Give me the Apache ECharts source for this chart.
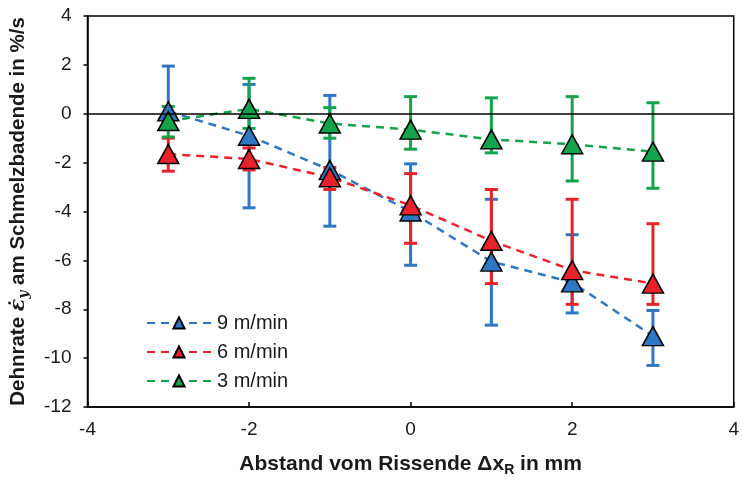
<!DOCTYPE html>
<html>
<head>
<meta charset="utf-8">
<script src="https://cdn.jsdelivr.net/npm/echarts@6/dist/echarts.min.js"></script>
<style>
html,body{margin:0;padding:0;background:#fff;}
#chart{width:742px;height:482px;}
</style>
</head>
<body>
<div id="chart"></div>
<script>
// Abstand vom Rissende in mm
var xPos = [-3, -2, -1, 0, 1, 2, 3];

// 9 m/min
var v9 = [0.1, -0.9, -2.3, -4.0, -6.05, -6.9, -9.1];
var v9Low = [-0.5, -3.85, -4.6, -6.2, -8.65, -8.15, -10.3];
var v9High = [1.95, 1.2, 0.75, -2.05, -3.5, -4.95, -8.05];

// 6 m/min
var v6 = [-1.65, -1.85, -2.6, -3.75, -5.2, -6.4, -6.95];
var v6Low = [-2.35, -2.3, -3.1, -5.3, -6.95, -7.8, -7.8];
var v6High = [-1.0, -1.4, -2.2, -2.45, -3.1, -3.5, -4.5];

// 3 m/min
var v3 = [-0.3, 0.2, -0.4, -0.65, -1.05, -1.25, -1.55];
var v3Low = [-0.95, -0.6, -1.0, -1.45, -1.6, -2.75, -3.05];
var v3High = [0.3, 1.45, 0.25, 0.7, 0.65, 0.7, 0.45];

var names = ['9 m/min', '6 m/min', '3 m/min'];
var colors = ['#2f77c4', '#e8222a', '#14a24c'];

window.onload = function(){

    function pts(vals){
        return xPos.map(function(x, i){ return [x, vals[i]]; });
    }
    function bars(lo, hi){
        return xPos.map(function(x, i){ return [x, lo[i], hi[i]]; });
    }

    // Fehlerbalken
    function errorSeries(lo, hi, color){
        return {
            type: 'custom',
            z: 1,
            silent: true,
            data: bars(lo, hi),
            encode: {x: 0, y: [1, 2]},
            renderItem: function(params, api){
                var top = api.coord([api.value(0), api.value(2)]);
                var bot = api.coord([api.value(0), api.value(1)]);
                var w = 6.5;
                var st = {stroke: color, lineWidth: 3};
                return {
                    type: 'group',
                    children: [
                        {type: 'line', shape: {x1: top[0], y1: top[1], x2: bot[0], y2: bot[1]}, style: st},
                        {type: 'line', shape: {x1: top[0]-w, y1: top[1], x2: top[0]+w, y2: top[1]}, style: st},
                        {type: 'line', shape: {x1: bot[0]-w, y1: bot[1], x2: bot[0]+w, y2: bot[1]}, style: st}
                    ]
                };
            }
        };
    }

    function lineSeries(name, vals, color){
        return {
            name: name,
            type: 'line',
            z: 3,
            data: pts(vals),
            symbol: 'triangle',
            symbolSize: [21, 19],
            lineStyle: {color: color, width: 2.5, type: [8, 6]},
            itemStyle: {color: color, borderColor: '#000', borderWidth: 1.5},
            emphasis: {disabled: true}
        };
    }

    var chart = echarts.init(document.getElementById('chart'));

    var blue = lineSeries(names[0], v9, colors[0]);
    blue.markLine = {
        silent: true,
        symbol: 'none',
        label: {show: false},
        lineStyle: {color: '#000', type: 'solid', width: 1.5},
        data: [{yAxis: 0}]
    };

    var option = {
        animation: false,
        textStyle: {fontFamily: 'Liberation Sans, Arial, sans-serif'},
        grid: {
            left: 85, right: 1, top: 16, bottom: 70,
            show: true, borderColor: '#000', borderWidth: 1.5
        },
        legend: {
            orient: 'vertical',
            left: 141,
            top: 308,
            itemWidth: 64,
            itemHeight: 14,
            itemGap: 9,
            textStyle: {fontSize: 20, color: '#1a1a1a', padding: [0, 0, 0, 1]},
            data: names
        },
        xAxis: {
            type: 'value',
            min: -4, max: 4, interval: 2,
            name: 'Abstand vom Rissende {n|Δx}{s|R}{n| in mm}',
            nameLocation: 'middle',
            nameGap: 44,
            nameTextStyle: {
                fontSize: 21, fontWeight: 'bold', color: '#1a1a1a',
                rich: {
                    n: {fontSize: 21, fontWeight: 'bold', color: '#1a1a1a', lineHeight: 26},
                    s: {fontSize: 14, fontWeight: 'bold', color: '#1a1a1a', lineHeight: 14, verticalAlign: 'bottom'}
                }
            },
            axisLine: {onZero: false, lineStyle: {color: '#000', width: 1.5}},
            axisTick: {inside: true, length: 5, lineStyle: {color: '#000', width: 1.5}},
            axisLabel: {fontSize: 19, color: '#1a1a1a', margin: 13},
            splitLine: {show: false}
        },
        yAxis: {
            type: 'value',
            min: -12, max: 4, interval: 2,
            name: 'Dehnrate {e|ε̇}{s|y}{n| am Schmelzbadende in %/s}',
            nameLocation: 'middle',
            nameGap: 56,
            nameTextStyle: {
                fontSize: 20.5, fontWeight: 'bold', color: '#1a1a1a',
                rich: {
                    n: {fontSize: 20.5, fontWeight: 'bold', color: '#1a1a1a', lineHeight: 26},
                    e: {fontSize: 20.5, fontStyle: 'italic', color: '#1a1a1a', fontFamily: 'DejaVu Serif', lineHeight: 26},
                    s: {fontSize: 14, fontStyle: 'italic', color: '#1a1a1a', fontFamily: 'DejaVu Serif', lineHeight: 14, verticalAlign: 'bottom'}
                }
            },
            axisLine: {onZero: false, lineStyle: {color: '#000', width: 1.5}},
            axisTick: {inside: false, length: 4, lineStyle: {color: '#000', width: 1.5}},
            axisLabel: {fontSize: 19, color: '#1a1a1a', margin: 16},
            splitLine: {show: false}
        },
        series: [
            errorSeries(v9Low, v9High, colors[0]),
            errorSeries(v6Low, v6High, colors[1]),
            errorSeries(v3Low, v3High, colors[2]),
            blue,
            lineSeries(names[1], v6, colors[1]),
            lineSeries(names[2], v3, colors[2])
        ]
    };

    chart.setOption(option);

    window.onresize = function(){
        chart.resize();
    };
};
</script>
</body>
</html>
